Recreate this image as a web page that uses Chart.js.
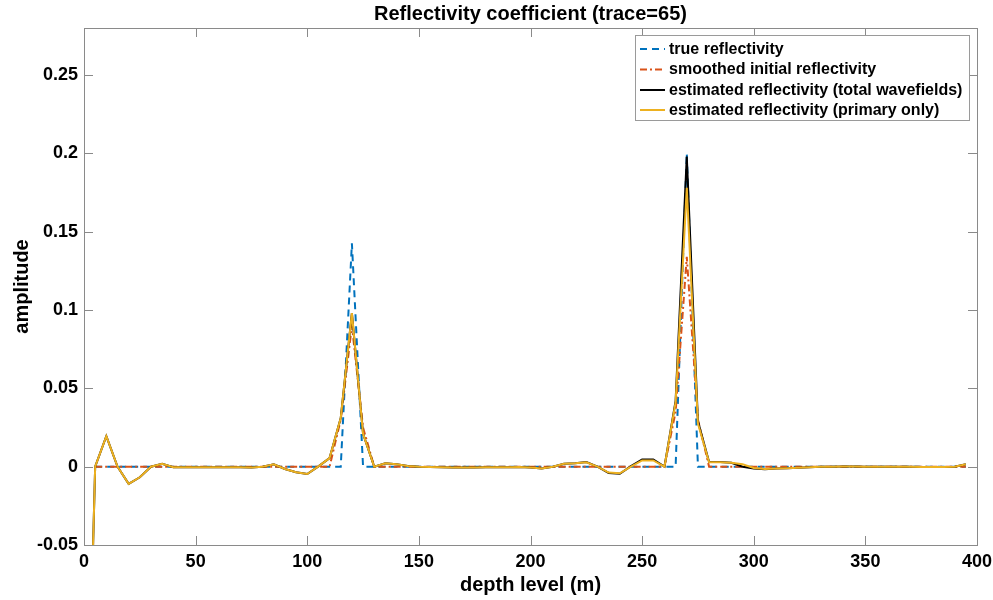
<!DOCTYPE html>
<html>
<head>
<meta charset="utf-8">
<script src="https://cdn.jsdelivr.net/npm/chart.js@4/dist/chart.umd.min.js"></script>
<style>
html,body{margin:0;padding:0;background:#fff;}
#wrap{width:993px;height:600px;position:relative;}
</style>
</head>
<body>
<div id="wrap"><canvas id="c" width="993" height="600"></canvas></div>
<script>
// ---- data ----
const chartTitle = "Reflectivity coefficient (trace=65)";
const xLabel = "depth level (m)";
const yLabel = "amplitude";
const seriesNames = ["true reflectivity","smoothed initial reflectivity","estimated reflectivity (total wavefields)","estimated reflectivity (primary only)"];

const depth = [0,5,10,15,20,25,30,35,40,45,50,55,60,65,70,75,80,85,90,95,
  100,105,110,115,120,125,130,135,140,145,150,155,160,165,170,175,180,185,190,195,
  200,205,210,215,220,225,230,235,240,245,250,255,260,265,270,275,280,285,290,295,
  300,305,310,315,320,325,330,335,340,345,350,355,360,365,370,375,380,385,390,395];

const trueRefl = [null,0,0,0,0,0,0,0,0,0,0,0,0,0,0,0,0,0,0,0,
  0,0,0,0,0.1425,0,0,0,0,0,0,0,0,0,0,0,0,0,0,0,
  0,0,0,0,0,0,0,0,0,0,0,0,0,0,0.2,0,0,0,0,0,
  0,0,0,0,0,0,0,0,0,0,0,0,0,0,0,0,0,0,0,0];

const smoothedRefl = [null,0,0,0,0,0,0,0,0,0,0,0,0,0,0,0,0,0,0,0,
  0,0,0,0.03,0.09,0.025,0,0,0,0,0,0,0,0,0,0,0,0,0,0,
  0,0,0,0,0,0,0,0,0,0,0,0,0,0.035,0.134,0.03,0,0,0,0,
  0,0,0,0,0,0,0,0,0,0,0,0,0,0,0,0,0,0,0,0];

const totalRefl = [-0.27,0,0.0195,0,-0.011,-0.0068,0,0.0018,-0.0004,-0.0003,
  -0.0003,-0.0003,-0.0003,-0.0004,-0.0004,-0.0005,0,0.0015,-0.0015,-0.0035,
  -0.0047,0.0002,0.0055,0.031,0.098,0.021,0,0.0022,0.0015,0.0004,
  0,-0.0002,-0.0004,-0.0005,-0.0005,-0.0005,-0.0004,-0.0003,-0.0003,-0.0002,
  -0.0005,-0.0012,0,0.0018,0.0022,0.003,0,-0.004,-0.0045,0.0003,
  0.0046,0.0046,0,0.042,0.198,0.029,0.003,0.003,0.0025,0,
  -0.0012,-0.0016,-0.0012,-0.001,-0.0007,-0.0003,0,0,0.0001,0.0001,
  0,0,-0.0001,-0.0001,-0.0001,-0.0002,-0.0002,-0.0002,-0.0001,0.0015];

const primaryRefl = [-0.27,0,0.0195,0,-0.011,-0.0068,0,0.0018,-0.0004,-0.0003,
  -0.0003,-0.0003,-0.0003,-0.0004,-0.0004,-0.0005,0,0.0015,-0.0015,-0.0035,
  -0.0047,0.0002,0.0055,0.031,0.098,0.021,0,0.0022,0.0015,0.0004,
  0,-0.0002,-0.0004,-0.0005,-0.0005,-0.0005,-0.0004,-0.0003,-0.0003,-0.0002,
  -0.0005,-0.0012,0,0.0018,0.0022,0.0028,0,-0.0038,-0.0042,0,
  0.004,0.004,0,0.041,0.178,0.0275,0.0028,0.0028,0.0025,0.0015,
  -0.0008,-0.0015,-0.0012,-0.001,-0.0007,-0.0003,0,0,0.0001,0.0001,
  0,0,-0.0001,-0.0001,-0.0001,-0.0002,-0.0002,-0.0002,-0.0001,0.0015];

const xTicks = [0,50,100,150,200,250,300,350,400];
const yTicks = [-0.05,0,0.05,0.1,0.15,0.2,0.25];
const yTickLabels = ["-0.05","0","0.05","0.1","0.15","0.2","0.25"];

// ---- styling ----
const FONT = "'Liberation Sans', Arial, Helvetica, sans-serif";
const AXIS_COLOR = "#8a8a8a";
const colors = ["#0072BD","#D95319","#000000","#EDB120"];
const dashes = [[7,5],[7,3,2,3],[],[]];

function pts(arr){ return depth.map((d,i)=>({x:d,y:arr[i]})); }

const seriesData = [trueRefl, smoothedRefl, totalRefl, primaryRefl];
const datasets = seriesData.map((arr,k)=>({
  label: seriesNames[k],
  data: pts(arr),
  borderColor: colors[k],
  backgroundColor: colors[k],
  borderWidth: 2,
  borderDash: dashes[k],
  pointRadius: 0,
  tension: 0,
  spanGaps: false,
  order: 4-k,
  fill: false
}));

const decor = {
  id: 'decor',
  afterDraw(chart){
    const ctx = chart.ctx;
    const a = chart.chartArea;
    const xs = chart.scales.x, ys = chart.scales.y;
    ctx.save();
    // box
    ctx.strokeStyle = AXIS_COLOR;
    ctx.lineWidth = 1;
    ctx.strokeRect(Math.round(a.left)+0.5, Math.round(a.top)+0.5, Math.round(a.right-a.left), Math.round(a.bottom-a.top));
    // inward ticks
    const tl = 9;
    ctx.beginPath();
    xTicks.forEach(v=>{
      const px = Math.round(xs.getPixelForValue(v))+0.5;
      ctx.moveTo(px, a.bottom); ctx.lineTo(px, a.bottom - tl);
      ctx.moveTo(px, a.top); ctx.lineTo(px, a.top + tl);
    });
    yTicks.forEach(v=>{
      const py = Math.round(ys.getPixelForValue(v))+0.5;
      ctx.moveTo(a.left, py); ctx.lineTo(a.left + tl, py);
      ctx.moveTo(a.right, py); ctx.lineTo(a.right - tl, py);
    });
    ctx.stroke();
    // title
    ctx.fillStyle = "#000";
    ctx.font = "bold 20px " + FONT;
    ctx.textAlign = "center";
    ctx.textBaseline = "middle";
    ctx.fillText(chartTitle, (a.left + a.right)/2, 14);
    // legend
    const lx = 635.5, ly = 35.5, lw = 334, lh = 85;
    ctx.fillStyle = "#fff";
    ctx.fillRect(lx, ly, lw, lh);
    ctx.strokeStyle = "#9a9a9a";
    ctx.strokeRect(lx, ly, lw, lh);
    ctx.font = "bold 16px " + FONT;
    ctx.textAlign = "left";
    ctx.textBaseline = "middle";
    const rowY = [49, 69.5, 90, 110];
    chart.data.datasets.forEach((ds,k)=>{
      const y = rowY[k];
      ctx.strokeStyle = ds.borderColor;
      ctx.lineWidth = 2;
      ctx.setLineDash(ds.borderDash || []);
      ctx.beginPath();
      ctx.moveTo(640, y); ctx.lineTo(665, y);
      ctx.stroke();
      ctx.setLineDash([]);
      ctx.fillStyle = "#000";
      ctx.fillText(ds.label, 669, y + 0.5);
    });
    ctx.restore();
  }
};

new Chart(document.getElementById('c'), {
  type: 'line',
  data: { datasets },
  plugins: [decor],
  options: {
    responsive: false,
    animation: false,
    devicePixelRatio: 1,
    layout: { padding: { top: 28, right: 16, left: 0, bottom: 0 } },
    plugins: { legend: { display: false }, title: { display: false }, tooltip: { enabled: false } },
    scales: {
      x: {
        type: 'linear', min: 0, max: 400,
        afterFit(s){ s.height = 55; s.paddingLeft = 0; s.paddingRight = 0; },
        afterBuildTicks(s){ s.ticks = xTicks.map(v=>({value:v})); },
        ticks: { color: "#000", font: { family: FONT, size: 18, weight: 'bold' }, padding: 6, maxRotation: 0, autoSkip: false },
        grid: { display: false, drawTicks: false },
        border: { display: true, color: AXIS_COLOR },
        title: { display: true, text: xLabel, color: "#000", font: { family: FONT, size: 20, weight: 'bold' }, padding: { top: 0, bottom: 3 } }
      },
      y: {
        type: 'linear', min: -0.05, max: 0.28,
        afterFit(s){ s.width = 84; s.paddingTop = 0; s.paddingBottom = 0; },
        afterBuildTicks(s){ s.ticks = yTicks.map(v=>({value:v})); },
        ticks: { color: "#000", font: { family: FONT, size: 18, weight: 'bold' }, padding: 6, autoSkip: false,
          callback: (v)=>{ const i = yTicks.findIndex(t=>Math.abs(t-v)<1e-9); return i>=0 ? yTickLabels[i] : ''; } },
        grid: { display: false, drawTicks: false },
        border: { display: true, color: AXIS_COLOR },
        title: { display: true, text: yLabel, color: "#000", font: { family: FONT, size: 20, weight: 'bold' }, padding: { top: 10, bottom: 0 } }
      }
    }
  }
});
</script>
</body>
</html>
